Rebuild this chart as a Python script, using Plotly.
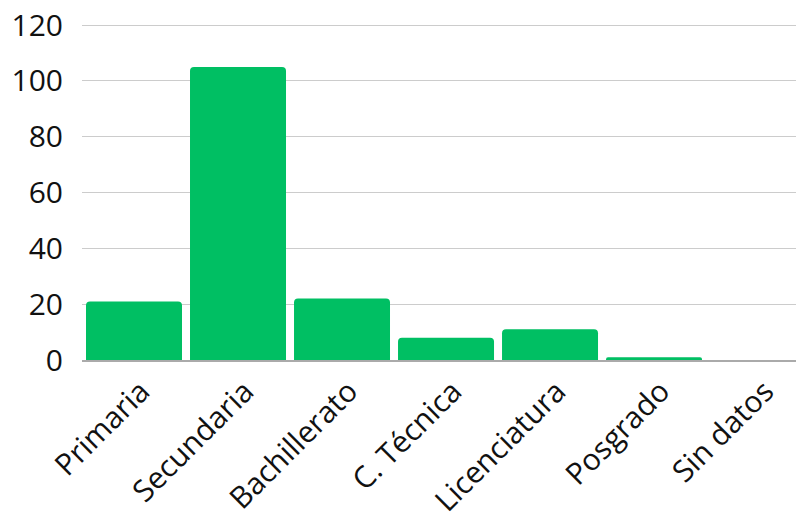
import plotly.graph_objects as go

categories = ["Primaria", "Secundaria", "Bachillerato", "C. Técnica", "Licenciatura", "Posgrado", "Sin datos"]
values = [21, 105, 22, 8, 11, 1, 0]
y_ticks = [0, 20, 40, 60, 80, 100, 120]

fig = go.Figure(go.Bar(
    x=categories, y=values,
    marker=dict(color="#00BF63", cornerradius=4, line=dict(width=0)),
))

fig.update_layout(
    width=796, height=521,
    margin=dict(l=82, r=0, t=24, b=161, autoexpand=False),
    paper_bgcolor="white", plot_bgcolor="white",
    bargap=0.077,
    font=dict(family="Open Sans", size=30, color="#111111"),
    showlegend=False,
)
fig.update_xaxes(
    range=[-0.5, 6.365], tickangle=-45, showgrid=False, automargin=False,
    showline=True, linecolor="#aaaaaa", linewidth=1.5,
    ticks="", tickfont=dict(size=30), ticklabelshift=7,
)
fig.update_yaxes(
    range=[0, 120.4], tickvals=y_ticks, showgrid=True, gridcolor="#cccccc", gridwidth=1,
    zeroline=False, showline=False, ticks="", ticklabelstandoff=18, automargin=False,
    tickfont=dict(size=30), ticklabeloverflow="allow",
)
fig.write_html(
    "out.html",
    config={"displayModeBar": False},
    post_script="document.body.style.margin='0';",
)
